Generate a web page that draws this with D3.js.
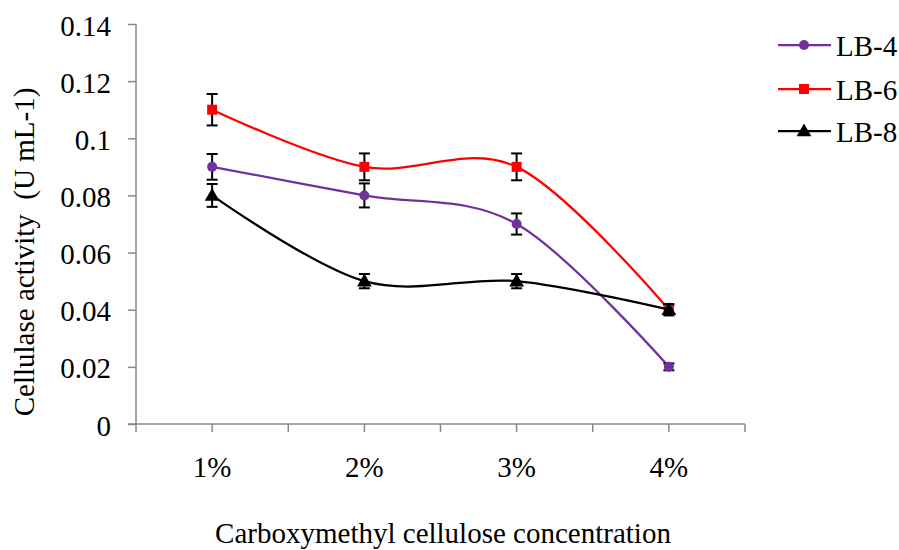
<!DOCTYPE html>
<html>
<head>
<meta charset="utf-8">
<script src="https://cdn.jsdelivr.net/npm/d3@7/dist/d3.min.js"></script>
<style>
  html, body { margin: 0; padding: 0; background: #fff; }
  svg { display: block; }
</style>
</head>
<body>
<svg id="chart" width="899" height="550"></svg>
<script>
const categories = ["1%", "2%", "3%", "4%"];
const seriesNames = ["LB-4", "LB-6", "LB-8"];
const lb4Values = [0.09, 0.08, 0.07, 0.02];
const lb6Values = [0.11, 0.09, 0.09, 0.04];
const lb8Values = [0.08, 0.05, 0.05, 0.04];
const lb4Errors = [0.0045, 0.0042, 0.0037, 0.0012];
const lb6Errors = [0.0055, 0.0047, 0.0047, 0.0015];
const lb8Errors = [0.004, 0.0025, 0.0025, 0.002];
const yTicks = [0, 0.02, 0.04, 0.06, 0.08, 0.1, 0.12, 0.14];
const yTickLabels = ["0", "0.02", "0.04", "0.06", "0.08", "0.1", "0.12", "0.14"];
const xTitle = "Carboxymethyl cellulose concentration";
const yTitle = "Cellulase activity\u00A0\u00A0(U mL-1)";

(function () {
const FONT = "Liberation Serif, Times New Roman, Times, serif";
const series = [
  { name: seriesNames[0], values: lb4Values, errors: lb4Errors, color: "#7030A0", marker: "circle" },
  { name: seriesNames[1], values: lb6Values, errors: lb6Errors, color: "#FF0000", marker: "square" },
  { name: seriesNames[2], values: lb8Values, errors: lb8Errors, color: "#000000", marker: "triangle" }
];

const svg = d3.select("#chart");
const pLeft = 136, pRight = 745, pTop = 24, pBottom = 424;
const axisColor = "#898989";
const fs = 29;

const x = d3.scaleBand().domain(categories).range([pLeft, pRight]).padding(0);
const y = d3.scaleLinear().domain([0, 0.14]).range([pBottom, pTop]);
const cx = c => x(c) + x.bandwidth() / 2;

// Y axis
const yAxis = d3.axisLeft(y).tickValues(yTicks).tickFormat((d, i) => yTickLabels[i]).tickSize(8).tickPadding(17);
const gy = svg.append("g").attr("transform", `translate(${pLeft},0)`).call(yAxis)
  .attr("font-family", FONT).attr("font-size", fs);
gy.select(".domain").attr("stroke", axisColor).attr("stroke-width", 1.5).attr("d", `M0,${pTop}V${pBottom + 8}`);
gy.selectAll(".tick line").attr("stroke", axisColor).attr("stroke-width", 1.5);
gy.selectAll(".tick text").attr("font-size", fs).attr("font-family", FONT).attr("dy", "0.38em").attr("fill", "#000");

// X axis: ticks at band edges and centers
const xg = svg.append("g").attr("font-family", FONT);
xg.append("line").attr("x1", pLeft - 8).attr("x2", pRight).attr("y1", pBottom).attr("y2", pBottom)
  .attr("stroke", axisColor).attr("stroke-width", 1.5);
const xTickPos = [];
categories.forEach(c => { xTickPos.push(x(c)); xTickPos.push(cx(c)); });
xTickPos.push(pRight);
xg.selectAll("line.xt").data(xTickPos.slice(1)).join("line").attr("class", "xt")
  .attr("x1", d => d).attr("x2", d => d).attr("y1", pBottom).attr("y2", pBottom + 8)
  .attr("stroke", axisColor).attr("stroke-width", 1.5);
xg.selectAll("text").data(categories).join("text")
  .attr("x", d => cx(d)).attr("y", 477).attr("text-anchor", "middle")
  .attr("font-family", FONT).attr("font-size", fs).text(d => d);

// Titles
svg.append("text").attr("x", 443).attr("y", 543).attr("text-anchor", "middle")
  .attr("font-family", FONT).attr("font-size", fs).text(xTitle);
svg.append("text").attr("transform", "translate(34,252) rotate(-90)").attr("text-anchor", "middle")
  .attr("font-family", FONT).attr("font-size", fs).text(yTitle);

// Markers
function drawMarker(g, type, px, py, color) {
  if (type === "circle") {
    g.append("circle").attr("cx", px).attr("cy", py).attr("r", 5).attr("fill", color);
  } else if (type === "square") {
    g.append("rect").attr("x", px - 5).attr("y", py - 5).attr("width", 10).attr("height", 10).attr("fill", color);
  } else {
    g.append("path").attr("d", d3.symbol().type(d3.symbolTriangle).size(95)()).attr("transform", `translate(${px},${py + 1})`).attr("fill", color);
  }
}

const line = d3.line().x((d, i) => cx(categories[i])).y(d => y(d)).curve(d3.curveCardinal.tension(0));

series.forEach(s => {
  const g = svg.append("g");
  g.append("path").datum(s.values).attr("d", line).attr("fill", "none").attr("stroke", s.color).attr("stroke-width", 2.25);
  s.values.forEach((v, i) => {
    const px = cx(categories[i]);
    const y1 = y(v + s.errors[i]), y2 = y(v - s.errors[i]);
    g.append("line").attr("x1", px).attr("x2", px).attr("y1", y1).attr("y2", y2).attr("stroke", "#000").attr("stroke-width", 2);
    [y1, y2].forEach(yy => g.append("line").attr("x1", px - 5.5).attr("x2", px + 5.5).attr("y1", yy).attr("y2", yy).attr("stroke", "#000").attr("stroke-width", 2));
  });
  s.values.forEach((v, i) => drawMarker(g, s.marker, cx(categories[i]), y(v), s.color));
});

// Legend
const legendY = [45, 89, 131];
series.forEach((s, i) => {
  const g = svg.append("g");
  g.append("line").attr("x1", 778).attr("x2", 831).attr("y1", legendY[i]).attr("y2", legendY[i]).attr("stroke", s.color).attr("stroke-width", 2.25);
  drawMarker(g, s.marker, 804, legendY[i], s.color);
  g.append("text").attr("x", 836).attr("y", legendY[i] + 11).attr("font-family", FONT).attr("font-size", fs).text(s.name);
});
})();
</script>
</body>
</html>
